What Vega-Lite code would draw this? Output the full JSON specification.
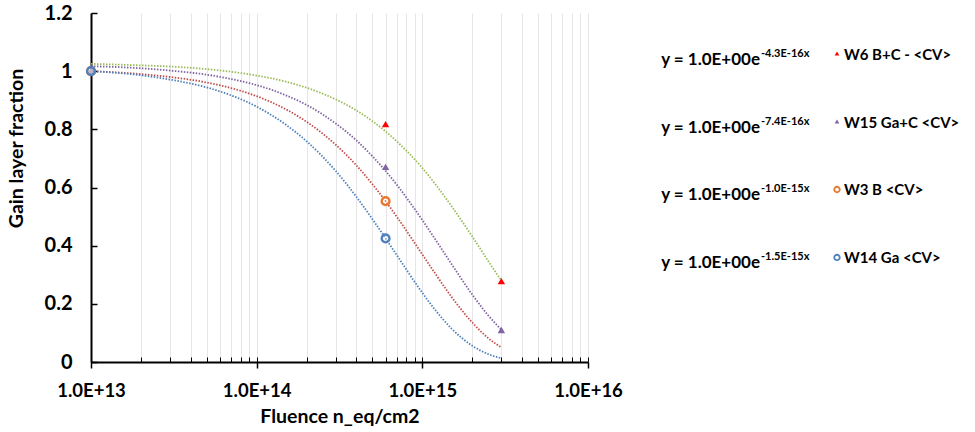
{
  "$schema": "https://vega.github.io/schema/vega-lite/v6.json",
  "padding": {"left": 5, "top": 3, "right": 0, "bottom": 0},
  "background": "white",
  "config": {
    "view": {"stroke": null},
    "font": "Lato",
    "axis": {"labelFont": "Lato", "titleFont": "Lato", "labelColor": "black", "titleColor": "black"}
  },
  "datasets": {
    "pts": [
      {"series": "W6", "fluence": 1e13, "frac": 1.0},
      {"series": "W6", "fluence": 6e14, "frac": 0.818},
      {"series": "W6", "fluence": 3e15, "frac": 0.278},
      {"series": "W15", "fluence": 1e13, "frac": 1.0},
      {"series": "W15", "fluence": 6e14, "frac": 0.671},
      {"series": "W15", "fluence": 3e15, "frac": 0.110},
      {"series": "W3", "fluence": 1e13, "frac": 1.0},
      {"series": "W3", "fluence": 6e14, "frac": 0.553},
      {"series": "W14", "fluence": 1e13, "frac": 1.0},
      {"series": "W14", "fluence": 6e14, "frac": 0.425}
    ],
    "fit": [
      {"series": "W6", "fluence": 1e13, "frac": 1.025},
      {"series": "W6", "fluence": 2e13, "frac": 1.020},
      {"series": "W6", "fluence": 3e13, "frac": 1.016},
      {"series": "W6", "fluence": 5e13, "frac": 1.007},
      {"series": "W6", "fluence": 7e13, "frac": 0.998},
      {"series": "W6", "fluence": 1e14, "frac": 0.985},
      {"series": "W6", "fluence": 1.5e14, "frac": 0.964},
      {"series": "W6", "fluence": 2e14, "frac": 0.943},
      {"series": "W6", "fluence": 3e14, "frac": 0.903},
      {"series": "W6", "fluence": 4e14, "frac": 0.865},
      {"series": "W6", "fluence": 5e14, "frac": 0.828},
      {"series": "W6", "fluence": 6e14, "frac": 0.793},
      {"series": "W6", "fluence": 7e14, "frac": 0.759},
      {"series": "W6", "fluence": 8e14, "frac": 0.727},
      {"series": "W6", "fluence": 1e15, "frac": 0.667},
      {"series": "W6", "fluence": 1.2e15, "frac": 0.611},
      {"series": "W6", "fluence": 1.5e15, "frac": 0.536},
      {"series": "W6", "fluence": 2e15, "frac": 0.432},
      {"series": "W6", "fluence": 2.5e15, "frac": 0.347},
      {"series": "W6", "fluence": 3e15, "frac": 0.280},
      {"series": "W15", "fluence": 1e13, "frac": 1.017},
      {"series": "W15", "fluence": 2e13, "frac": 1.010},
      {"series": "W15", "fluence": 3e13, "frac": 1.002},
      {"series": "W15", "fluence": 5e13, "frac": 0.988},
      {"series": "W15", "fluence": 7e13, "frac": 0.973},
      {"series": "W15", "fluence": 1e14, "frac": 0.952},
      {"series": "W15", "fluence": 1.5e14, "frac": 0.917},
      {"series": "W15", "fluence": 2e14, "frac": 0.884},
      {"series": "W15", "fluence": 3e14, "frac": 0.820},
      {"series": "W15", "fluence": 4e14, "frac": 0.762},
      {"series": "W15", "fluence": 5e14, "frac": 0.707},
      {"series": "W15", "fluence": 6e14, "frac": 0.657},
      {"series": "W15", "fluence": 7e14, "frac": 0.610},
      {"series": "W15", "fluence": 8e14, "frac": 0.566},
      {"series": "W15", "fluence": 1e15, "frac": 0.488},
      {"series": "W15", "fluence": 1.2e15, "frac": 0.421},
      {"series": "W15", "fluence": 1.5e15, "frac": 0.337},
      {"series": "W15", "fluence": 2e15, "frac": 0.232},
      {"series": "W15", "fluence": 2.5e15, "frac": 0.160},
      {"series": "W15", "fluence": 3e15, "frac": 0.111},
      {"series": "W3", "fluence": 1e13, "frac": 1.000},
      {"series": "W3", "fluence": 2e13, "frac": 0.990},
      {"series": "W3", "fluence": 3e13, "frac": 0.980},
      {"series": "W3", "fluence": 5e13, "frac": 0.961},
      {"series": "W3", "fluence": 7e13, "frac": 0.942},
      {"series": "W3", "fluence": 1e14, "frac": 0.914},
      {"series": "W3", "fluence": 1.5e14, "frac": 0.869},
      {"series": "W3", "fluence": 2e14, "frac": 0.826},
      {"series": "W3", "fluence": 3e14, "frac": 0.747},
      {"series": "W3", "fluence": 4e14, "frac": 0.676},
      {"series": "W3", "fluence": 5e14, "frac": 0.611},
      {"series": "W3", "fluence": 6e14, "frac": 0.553},
      {"series": "W3", "fluence": 7e14, "frac": 0.500},
      {"series": "W3", "fluence": 8e14, "frac": 0.452},
      {"series": "W3", "fluence": 1e15, "frac": 0.370},
      {"series": "W3", "fluence": 1.2e15, "frac": 0.303},
      {"series": "W3", "fluence": 1.5e15, "frac": 0.224},
      {"series": "W3", "fluence": 2e15, "frac": 0.136},
      {"series": "W3", "fluence": 2.5e15, "frac": 0.082},
      {"series": "W3", "fluence": 3e15, "frac": 0.050},
      {"series": "W14", "fluence": 1e13, "frac": 1.000},
      {"series": "W14", "fluence": 2e13, "frac": 0.986},
      {"series": "W14", "fluence": 3e13, "frac": 0.971},
      {"series": "W14", "fluence": 5e13, "frac": 0.944},
      {"series": "W14", "fluence": 7e13, "frac": 0.917},
      {"series": "W14", "fluence": 1e14, "frac": 0.878},
      {"series": "W14", "fluence": 1.5e14, "frac": 0.816},
      {"series": "W14", "fluence": 2e14, "frac": 0.759},
      {"series": "W14", "fluence": 3e14, "frac": 0.657},
      {"series": "W14", "fluence": 4e14, "frac": 0.568},
      {"series": "W14", "fluence": 5e14, "frac": 0.491},
      {"series": "W14", "fluence": 6e14, "frac": 0.425},
      {"series": "W14", "fluence": 7e14, "frac": 0.368},
      {"series": "W14", "fluence": 8e14, "frac": 0.318},
      {"series": "W14", "fluence": 1e15, "frac": 0.238},
      {"series": "W14", "fluence": 1.2e15, "frac": 0.178},
      {"series": "W14", "fluence": 1.5e15, "frac": 0.115},
      {"series": "W14", "fluence": 2e15, "frac": 0.056},
      {"series": "W14", "fluence": 2.5e15, "frac": 0.027},
      {"series": "W14", "fluence": 3e15, "frac": 0.013}
    ],
    "legend": [
      {"series": "W6", "eq": "y = 1.0E+00e", "sup": "-4.3E-16x", "label": "W6 B+C - <CV>"},
      {"series": "W15", "eq": "y = 1.0E+00e", "sup": "-7.4E-16x", "label": "W15 Ga+C  <CV>"},
      {"series": "W3", "eq": "y = 1.0E+00e", "sup": "-1.0E-15x", "label": "W3 B <CV>"},
      {"series": "W14", "eq": "y = 1.0E+00e", "sup": "-1.5E-15x", "label": "W14 Ga  <CV>"}
    ]
  },
  "hconcat": [
    {
      "width": 497,
      "height": 349,
      "layer": [
        {
          "data": {"name": "fit"},
          "mark": {"type": "line", "interpolate": "monotone", "strokeDash": [1.5, 1.5], "strokeWidth": 1.8, "strokeCap": "butt"},
          "encoding": {
            "x": {
              "field": "fluence", "type": "quantitative",
              "scale": {"type": "log", "domain": [1e13, 1e16], "nice": false},
              "axis": {
                "orient": "bottom",
                "values": [1e13, 1e14, 1e15, 1e16],
                "labelExpr": "upper(format(datum.value, '.1e'))",
                "labelFontSize": 18.5, "labelFontWeight": "bold", "labelPadding": 13,
                "labelFlush": false, "labelOverlap": false,
                "tickSize": 6, "tickColor": "black", "tickWidth": 1.5,
                "domainColor": "black", "domainWidth": 2,
                "grid": false,
                "title": "Fluence n_eq/cm2", "titleFontSize": 19.5, "titleFontWeight": "bold", "titlePadding": 8
              }
            },
            "y": {
              "field": "frac", "type": "quantitative",
              "scale": {"domain": [0, 1.2], "nice": false},
              "axis": {
                "values": [0, 0.2, 0.4, 0.6, 0.8, 1, 1.2],
                "labelExpr": "format(datum.value, '~g')",
                "labelFontSize": 20, "labelFontWeight": "bold", "labelPadding": 25,
                "tickSize": -6, "tickColor": "black", "tickWidth": 1.5,
                "domainColor": "black", "domainWidth": 2,
                "grid": false,
                "title": "Gain layer fraction", "titleFontSize": 19.5, "titleFontWeight": "bold",
                "titleX": -75, "titleY": 135, "titleBaseline": "middle", "titleAlign": "center", "titleAngle": -90
              }
            },
            "stroke": {
              "field": "series", "type": "nominal",
              "scale": {"domain": ["W6", "W15", "W3", "W14"], "range": ["#9BBB59", "#8064A2", "#C0504D", "#4F81BD"]},
              "legend": null
            }
          }
        },
        {
          "data": {"name": "pts"},
          "transform": [{"filter": "datum.series == 'W6' || datum.series == 'W15'"}],
          "mark": {"type": "point", "shape": "triangle-up", "filled": true, "size": 55, "opacity": 1},
          "encoding": {
            "x": {
              "field": "fluence", "type": "quantitative",
              "scale": {"type": "log", "domain": [1e13, 1e16], "nice": false},
              "axis": {
                "orient": "bottom",
                "values": [1e13, 2e13, 3e13, 4e13, 5e13, 6e13, 7e13, 8e13, 9e13,
                           1e14, 2e14, 3e14, 4e14, 5e14, 6e14, 7e14, 8e14, 9e14,
                           1e15, 2e15, 3e15, 4e15, 5e15, 6e15, 7e15, 8e15, 9e15, 1e16],
                "labels": false, "domain": false,
                "tickSize": -5, "tickColor": "black", "tickWidth": 1,
                "grid": true, "gridColor": "#E6E6E6", "gridWidth": 1,
                "title": null
              }
            },
            "y": {"field": "frac", "type": "quantitative", "scale": {"domain": [0, 1.2], "nice": false}},
            "color": {
              "field": "series", "type": "nominal",
              "scale": {"domain": ["W6", "W15", "W3", "W14"], "range": ["#FF0000", "#8064A2", "#E8792F", "#4F81BD"]},
              "legend": null
            }
          }
        },
        {
          "data": {"name": "pts"},
          "transform": [{"filter": "datum.series == 'W3' || datum.series == 'W14'"}],
          "mark": {"type": "point", "shape": "circle", "filled": false, "size": 60, "strokeWidth": 2.4, "opacity": 1, "fill": "white", "fillOpacity": 0.3},
          "encoding": {
            "x": {"field": "fluence", "type": "quantitative", "scale": {"type": "log", "domain": [1e13, 1e16], "nice": false}, "axis": null},
            "y": {"field": "frac", "type": "quantitative", "scale": {"domain": [0, 1.2], "nice": false}},
            "color": {
              "field": "series", "type": "nominal",
              "scale": {"domain": ["W6", "W15", "W3", "W14"], "range": ["#FF0000", "#8064A2", "#E8792F", "#4F81BD"]},
              "legend": null
            }
          }
        }
      ],
      "resolve": {"axis": {"x": "independent"}}
    },
    {
      "width": 335,
      "height": 285,
      "data": {"name": "legend"},
      "encoding": {
        "y": {"field": "series", "type": "nominal", "sort": ["W6", "W15", "W3", "W14"], "scale": {"type": "point", "padding": 0.596}, "axis": null}
      },
      "layer": [
        {
          "mark": {"type": "text", "align": "right", "baseline": "middle", "dy": 6, "fontSize": 17, "fontWeight": "bold", "color": "black"},
          "encoding": {
            "x": {"datum": 120, "type": "quantitative", "scale": {"domain": [0, 335], "nice": false, "zero": false}, "axis": null},
            "text": {"field": "eq"}
          }
        },
        {
          "mark": {"type": "text", "align": "left", "baseline": "middle", "dy": 0, "fontSize": 11, "fontWeight": "bold", "color": "black"},
          "encoding": {
            "x": {"datum": 121, "type": "quantitative", "scale": {"domain": [0, 335], "nice": false, "zero": false}, "axis": null},
            "text": {"field": "sup"}
          }
        },
        {
          "transform": [{"filter": "datum.series == 'W6' || datum.series == 'W15'"}],
          "mark": {"type": "point", "shape": "triangle-up", "filled": true, "size": 22, "opacity": 1},
          "encoding": {
            "x": {"datum": 197, "type": "quantitative", "scale": {"domain": [0, 335], "nice": false, "zero": false}, "axis": null},
            "color": {"field": "series", "type": "nominal", "scale": {"domain": ["W6", "W15", "W3", "W14"], "range": ["#FF0000", "#8064A2", "#E8792F", "#4F81BD"]}, "legend": null}
          }
        },
        {
          "transform": [{"filter": "datum.series == 'W3' || datum.series == 'W14'"}],
          "mark": {"type": "point", "shape": "circle", "filled": false, "size": 30, "strokeWidth": 1.8, "opacity": 1},
          "encoding": {
            "x": {"datum": 197, "type": "quantitative", "scale": {"domain": [0, 335], "nice": false, "zero": false}, "axis": null},
            "color": {"field": "series", "type": "nominal", "scale": {"domain": ["W6", "W15", "W3", "W14"], "range": ["#FF0000", "#8064A2", "#E8792F", "#4F81BD"]}, "legend": null}
          }
        },
        {
          "mark": {"type": "text", "align": "left", "baseline": "middle", "dy": 1, "fontSize": 15, "fontWeight": "bold", "color": "black"},
          "encoding": {
            "x": {"datum": 204, "type": "quantitative", "scale": {"domain": [0, 335], "nice": false, "zero": false}, "axis": null},
            "text": {"field": "label"}
          }
        }
      ]
    }
  ],
  "spacing": 17
}
